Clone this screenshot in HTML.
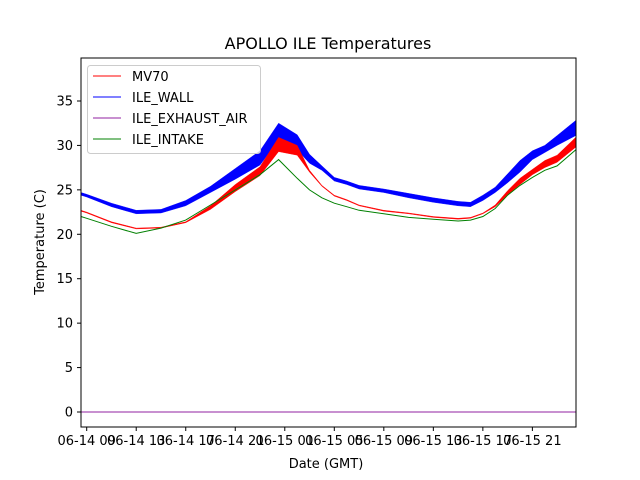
<!DOCTYPE html>
<html><head><meta charset="utf-8"><style>
body{margin:0;background:#fff;}
svg{display:block;font-family:"DejaVu Sans","Liberation Sans",sans-serif;}
</style></head><body>
<svg id="chart" width="640" height="480">
<rect width="640" height="480" fill="#fff"/>
<text x="328" y="49" font-size="16" text-anchor="middle">APOLLO ILE Temperatures</text>
<g id="plot"></g>
<rect x="81" y="58" width="495" height="369" fill="none" stroke="#000" stroke-width="1"/>
<g id="xaxis"></g><g id="yaxis"></g>
<text x="326" y="468" font-size="13" text-anchor="middle">Date (GMT)</text>
<text transform="translate(44,242) rotate(-90)" font-size="13" text-anchor="middle">Temperature (C)</text>
<g>
<rect x="87.5" y="65.5" width="173" height="88" rx="3" fill="#fff" fill-opacity="0.8" stroke="#ccc"/>
<g><line x1="93" y1="76" x2="121" y2="76" stroke="red" stroke-width="1"/><text x="132" y="81" font-size="13">MV70</text></g>
<g><line x1="93" y1="97" x2="121" y2="97" stroke="blue" stroke-width="1"/><text x="132" y="102" font-size="13">ILE_WALL</text></g>
<g><line x1="93" y1="118" x2="121" y2="118" stroke="#9020a0" stroke-width="1"/><text x="132" y="123" font-size="13">ILE_EXHAUST_AIR</text></g>
<g><line x1="93" y1="139" x2="121" y2="139" stroke="green" stroke-width="1"/><text x="132" y="144" font-size="13">ILE_INTAKE</text></g>
</g>
</svg>
<script>
// hours since 06-14 09:00
const hours = [-0.46,0,2,4,6,8,10,12,14,15.5,17,18,19,20,21,22,24,26,28,30,31,32,33,34,35,36,37,38,39.5];
const wallHi = [24.7,24.5,23.5,22.7,22.8,23.8,25.4,27.4,29.4,32.5,31.2,29.0,27.7,26.4,26.0,25.5,25.1,24.6,24.1,23.7,23.6,24.4,25.3,26.8,28.3,29.4,30.0,31.1,32.8];
const wallLo = [24.4,24.2,23.1,22.3,22.4,23.2,24.7,26.2,27.8,30.6,29.5,28.0,27.2,26.0,25.6,25.1,24.7,24.1,23.6,23.2,23.1,23.8,24.7,25.8,27.0,28.4,29.2,30.0,31.1];
const mv70Hi = [22.7,22.5,21.4,20.7,20.8,21.4,23.2,25.6,27.6,30.9,30.0,27.2,25.5,24.4,23.9,23.3,22.7,22.4,22.0,21.8,21.9,22.4,23.3,24.9,26.3,27.3,28.3,28.9,30.9];
const mv70Lo = [22.6,22.4,21.3,20.6,20.7,21.3,22.8,24.8,26.6,29.3,28.9,27.0,25.4,24.3,23.8,23.2,22.6,22.3,21.9,21.7,21.8,22.3,23.1,24.4,25.6,26.7,27.5,28.1,29.8];
const intake = [22.0,21.8,20.9,20.1,20.7,21.6,23.3,25.0,26.7,28.4,26.3,25.0,24.1,23.5,23.1,22.7,22.3,21.9,21.7,21.5,21.6,22.0,22.9,24.4,25.5,26.4,27.2,27.7,29.5];
const exhaust = [0,0,0,0,0,0,0,0,0,0,0,0,0,0,0,0,0,0,0,0,0,0,0,0,0,0,0,0,0];
const xTickLabels = ["06-14 09","06-14 13","06-14 17","06-14 21","06-15 01","06-15 05","06-15 09","06-15 13","06-15 17","06-15 21"];
const xTickHours = [0,4,8,12,16,20,24,28,32,36];
const yTicks = [0,5,10,15,20,25,30,35];

const X = h => 86.7 + 12.38*h;
const Y = t => 412 - 8.886*t;
const NS="http://www.w3.org/2000/svg";
const plot=document.getElementById('plot');
function mk(tag,attrs,parent){const e=document.createElementNS(NS,tag);for(const k in attrs)e.setAttribute(k,attrs[k]);parent.appendChild(e);return e;}
function pts(arr){return arr.map((v,i)=>X(hours[i]).toFixed(1)+','+Y(v).toFixed(1)).join(' ');}
function band(hi,lo,color,name){
  const poly=hours.map((h,i)=>X(h).toFixed(1)+','+Y(hi[i]).toFixed(1)).concat(hours.map((h,i)=>[X(h),Y(lo[i])]).reverse().map(p=>p[0].toFixed(1)+','+p[1].toFixed(1))).join(' ');
  const p=mk('polygon',{points:poly,fill:color,stroke:color,'stroke-width':0.4},plot);
  
  
}
band(wallHi,wallLo,'blue','ile-wall-series');
band(mv70Hi,mv70Lo,'red','mv70-series');
const g=mk('polyline',{points:pts(intake),fill:'none',stroke:'green','stroke-width':1},plot);


const ex=mk('polyline',{points:hours.map((h,i)=>(i==0?81:i==hours.length-1?576:X(h))+','+Y(exhaust[i])).join(' '),fill:'none',stroke:'#9020a0','stroke-width':1},plot);



const xa=document.getElementById('xaxis');
xTickHours.forEach((h,i)=>{
  const x=X(h);
  const t=mk('line',{x1:x,y1:427,x2:x,y2:431,stroke:'#000'},xa);
  
  
  const l=mk('text',{x:x,y:445,'font-size':13,'text-anchor':'middle'},xa);
  l.textContent=xTickLabels[i];
  
  
});
const ya=document.getElementById('yaxis');
yTicks.forEach(v=>{
  const y=Y(v);
  const t=mk('line',{x1:77,y1:y,x2:81,y2:y,stroke:'#000'},ya);
  
  
  const l=mk('text',{x:73,y:y+4.5,'font-size':13,'text-anchor':'end'},ya);
  l.textContent=v;
  
  
});
</script>
</body></html>
